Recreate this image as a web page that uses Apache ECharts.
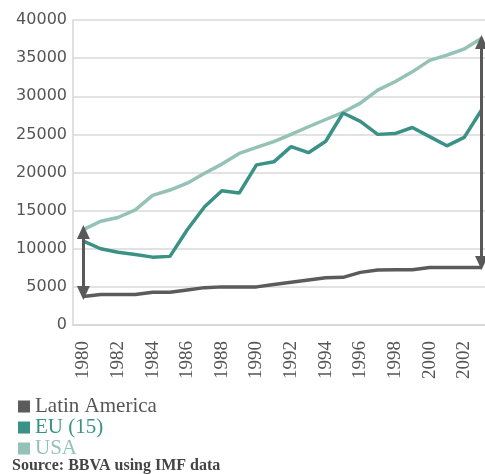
<!DOCTYPE html>
<html>
<head>
<meta charset="utf-8">
<script src="https://cdn.jsdelivr.net/npm/echarts@6/dist/echarts.min.js"></script>
<style>
  html, body { margin: 0; padding: 0; background: #fff; }
  #chart { width: 485px; height: 474px; }
</style>
</head>
<body>
<div id="chart"></div>
<script>
const years = [1980, 1981, 1982, 1983, 1984, 1985, 1986, 1987, 1988, 1989, 1990, 1991,
  1992, 1993, 1994, 1995, 1996, 1997, 1998, 1999, 2000, 2001, 2002, 2003];
const latinAmerica = [3750, 4000, 4000, 4000, 4300, 4300, 4600, 4900, 5000, 5000, 5000, 5300,
  5600, 5900, 6200, 6250, 6900, 7200, 7250, 7250, 7550, 7550, 7550, 7550];
const eu15 = [11000, 10000, 9550, 9250, 8900, 9000, 12500, 15500, 17600, 17300, 21000, 21400,
  23400, 22600, 24100, 27800, 26700, 25000, 25100, 25900, 24700, 23500, 24600, 28200];
const usa = [12500, 13600, 14100, 15100, 17000, 17700, 18600, 19900, 21100, 22500, 23300, 24050,
  25000, 26000, 26950, 27900, 29100, 30800, 31900, 33200, 34700, 35400, 36200, 37600];
const yearLabels = [1980, 1982, 1984, 1986, 1988, 1990, 1992, 1994, 1996, 1998, 2000, 2002];
// flechas del gap: año, extremo superior, extremo inferior
const arrowYears = [1980, 2003];
const arrowTops = [12200, 37100];
const arrowBottoms = [4200, 8130];

const colores = { la: "#5b5b5b", eu: "#3a9185", usa: "#94c2b7" };

const chart = echarts.init(document.getElementById("chart"));

const flechas = arrowYears.map((a, i) => [
  { coord: [a, arrowTops[i]] },
  { coord: [a, arrowBottoms[i]] },
]);

const option = {
  animation: false,
  grid: { left: 73, right: 0, top: 20, bottom: 149 },
  legend: {
    orient: "vertical",
    left: 18,
    top: 396,
    padding: 0,
    itemWidth: 12,
    itemHeight: 12,
    itemGap: 0,
    icon: "rect",
    textStyle: { fontFamily: "Liberation Serif", fontSize: 21, lineHeight: 20.5 },
    data: [
      { name: "Latin America", textStyle: { color: "#555" } },
      { name: "EU (15)", textStyle: { color: colores.eu } },
      { name: "USA", textStyle: { color: colores.usa } },
    ],
  },
  graphic: [
    {
      type: "text",
      left: 12,
      top: 458,
      style: {
        text: "Source: BBVA using IMF data",
        font: "bold 16px 'Liberation Serif'",
        fill: "#444",
      },
    },
  ],
  xAxis: {
    type: "value",
    min: 1979.4,
    max: 2003.2,
    axisLine: { lineStyle: { color: "#d6d6d6", width: 1.5 } },
    axisTick: { show: false },
    splitLine: { show: false },
    axisLabel: {
      customValues: yearLabels,
      rotate: 90,
      margin: 16,
      fontFamily: "Liberation Serif",
      fontSize: 19,
      color: "#555",
      formatter: (v) => String(v),
    },
  },
  yAxis: {
    type: "value",
    min: 0,
    max: 40000,
    interval: 5000,
    axisLine: { show: true, lineStyle: { color: "#d6d6d6", width: 1.5 } },
    axisTick: { show: false },
    splitLine: { lineStyle: { color: "#d9d9d9", width: 1.5 } },
    axisLabel: {
      fontFamily: "DejaVu Sans",
      fontSize: 16,
      color: "#555",
      margin: 6,
      formatter: (v) => String(v),
    },
  },
  series: [
    {
      name: "Latin America",
      type: "line",
      data: years.map((a, i) => [a, latinAmerica[i]]),
      showSymbol: false,
      color: colores.la,
      lineStyle: { width: 3.5 },
      z: 3,
      markLine: {
        silent: true,
        symbol: ["triangle", "triangle"],
        symbolSize: [13, 14],
        label: { show: false },
        lineStyle: { color: "#595959", width: 3, type: "solid" },
        data: flechas,
      },
    },
    {
      name: "EU (15)",
      type: "line",
      data: years.map((a, i) => [a, eu15[i]]),
      showSymbol: false,
      color: colores.eu,
      lineStyle: { width: 3.5 },
      z: 2,
    },
    {
      name: "USA",
      type: "line",
      data: years.map((a, i) => [a, usa[i]]),
      showSymbol: false,
      color: colores.usa,
      lineStyle: { width: 3.5 },
      z: 1,
    },
  ],
};

chart.setOption(option);
</script>
</body>
</html>
